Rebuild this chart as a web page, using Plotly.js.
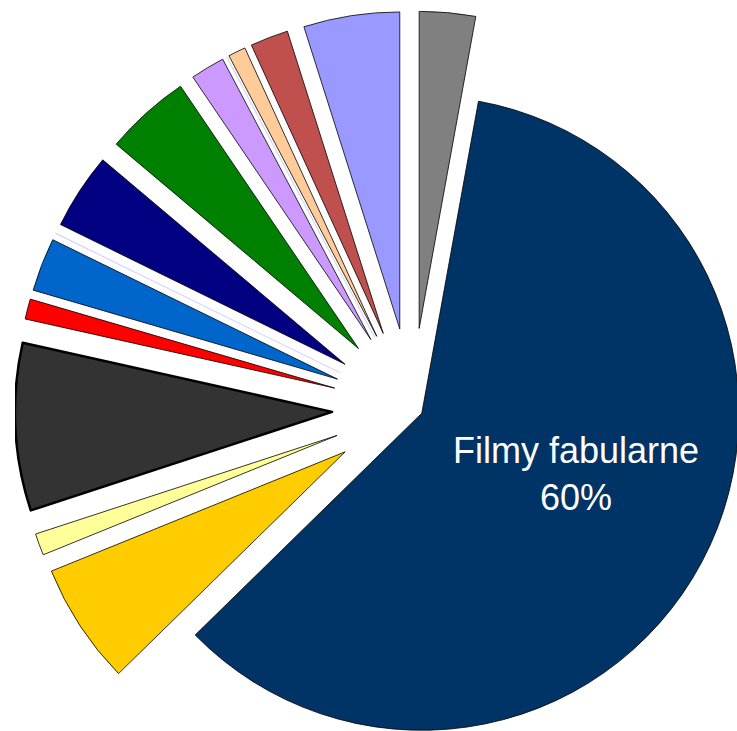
<!DOCTYPE html>
<html>
<head>
<meta charset="utf-8">
<script src="https://cdn.plot.ly/plotly-3.0.1.min.js"></script>
<style>
  html, body { margin: 0; padding: 0; width: 737px; height: 731px; overflow: hidden; background: #ffffff; }
  #chart { position: absolute; left: 15px; top: 11px; width: 794px; height: 794px; }
</style>
</head>
<body>
<div id="chart"></div>
<script>
// Slice data (clockwise from 12 o'clock)
var labels = [
  "Kategoria 1", "Filmy fabularne", "Kategoria 3", "Kategoria 4", "Kategoria 5",
  "Kategoria 6", "Kategoria 7", "Kategoria 8", "Kategoria 9", "Kategoria 10",
  "Kategoria 11", "Kategoria 12", "Kategoria 13", "Kategoria 14", "Kategoria 15"
];
var values = [2.86, 59.83, 6.19, 1.11, 8.53, 1.03, 2.72, 0.02, 3.89, 4.36, 1.75, 0.02, 0.89, 1.94, 4.89];
var colors = ["#808080", "#003366", "#FFCC00", "#FFFF99", "#333333", "#FF0000", "#0066CC", "#CCCCFF",
              "#000080", "#008000", "#CC99FF", "#CCCCFF", "#FFCC99", "#C0504D", "#9999FF"];
var labelledIndex = 1;

var pulls = labels.map(function (l, i) { return i === labelledIndex ? 0.035 : 0.252; });
var lineColors = colors.map(function (c) { return c === "#CCCCFF" ? "#CCCCFF" : "#000000"; });
var lineWidths = colors.map(function (c, i) { return i === 4 ? 2.5 : (c === "#CCCCFF" ? 0.6 : 0.8); });

var total = values.reduce(function (a, b) { return a + b; }, 0);
var pct = Math.round(values[labelledIndex] / total * 100);

var trace = {
  type: "pie",
  labels: labels,
  values: values,
  sort: false,
  direction: "clockwise",
  rotation: 0,
  pull: pulls,
  marker: { colors: colors, line: { color: lineColors, width: lineWidths } },
  textinfo: "none",
  hoverinfo: "label+percent",
  domain: { x: [0, 1], y: [0, 1] }
};

var layout = {
  width: 794,
  height: 794,
  margin: { l: 0, r: 0, t: 0, b: 0 },
  showlegend: false,
  paper_bgcolor: "rgba(0,0,0,0)",
  plot_bgcolor: "rgba(0,0,0,0)",
  annotations: [{
    xref: "paper", yref: "paper",
    x: 0.7066, y: 0.4169,
    xanchor: "center", yanchor: "middle",
    showarrow: false,
    align: "center",
    text: labels[labelledIndex] + "<br>" + pct + "%",
    font: { family: "Liberation Sans, Arial, sans-serif", size: 36, color: "#ffffff" }
  }]
};

Plotly.newPlot("chart", [trace], layout, { displayModeBar: false, staticPlot: true });
</script>
</body>
</html>
